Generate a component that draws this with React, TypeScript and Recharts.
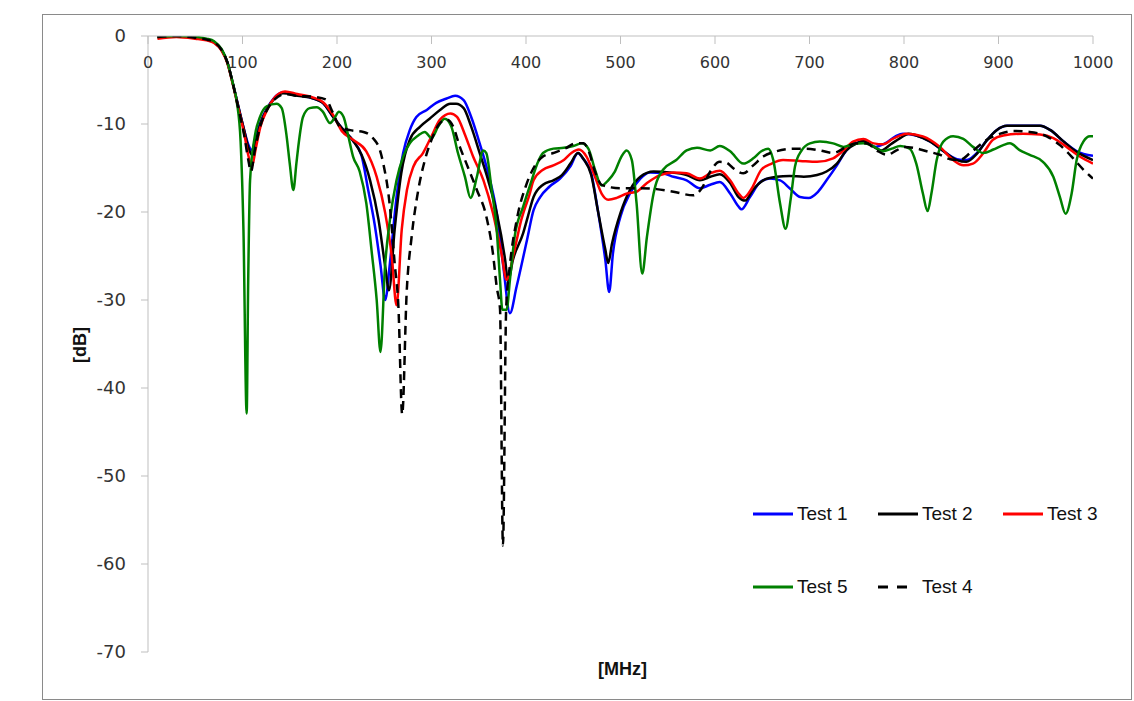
import { LineChart, Line, XAxis, YAxis, Legend } from 'recharts';

// frequency axis (MHz) and attenuation axis (dB)
const freqTicks = [0, 100, 200, 300, 400, 500, 600, 700, 800, 900, 1000];
const dbTicks = [0, -10, -20, -30, -40, -50, -60, -70];

// [MHz, dB]
const test1: [number, number][] = [
  [10, -0.1], [30, 0], [50, -0.2], [62, -0.4], [70, -0.7], [78, -1.6], [84, -3], [90, -5.5], [96, -8.2],
  [102, -10.8], [106, -12.3], [110, -13], [114, -11.5], [119, -9.8], [126, -8.2], [133, -7.1], [143, -6.4],
  [158, -6.7], [175, -7.1], [185, -7.6], [196, -9.2], [207, -10.7], [217, -11.9], [226, -13.6], [233, -17.5],
  [240, -21.5], [246, -26], [251, -30], [256, -25.8], [263, -18.3], [270, -13.3], [277, -10.7], [284, -9.2],
  [295, -8.4], [305, -7.6], [316, -7.1], [325, -6.8], [334, -7.3], [342, -9.2], [351, -12.2], [360, -15.6],
  [369, -20.1], [376, -26.2], [383, -31.5], [390, -28.5], [401, -23.2], [408, -19.8], [415, -18.3], [425, -17.1],
  [436, -16.2], [447, -14.8], [455, -13.3], [460, -13.9], [469, -15.6], [476, -19.8], [484, -25.5], [488, -29.1],
  [492, -24.7], [500, -20.5], [510, -17.9], [521, -16.2], [531, -15.5], [545, -15.6], [556, -16], [570, -16.4],
  [584, -17.3], [595, -16.9], [605, -16.6], [616, -17.9], [625, -19.4], [628, -19.7], [637, -18.3], [648, -16.6],
  [658, -16.2], [669, -16.4], [679, -17.3], [690, -18.3], [699, -18.4], [709, -17.7], [718, -16.4], [729, -14.7],
  [739, -13], [748, -12.2], [759, -12], [769, -12.6], [780, -12.2], [791, -11.4], [799, -11.1], [813, -11.3],
  [828, -12], [842, -13.1], [856, -14], [866, -14.1], [877, -13.3], [888, -11.8], [898, -10.7], [909, -10.2],
  [926, -10.2], [944, -10.2], [955, -10.7], [969, -12], [983, -13.1], [1000, -13.6],
];

const test2: [number, number][] = [
  [10, -0.1], [30, 0], [50, -0.2], [62, -0.4], [70, -0.7], [78, -1.6], [84, -3], [90, -5.5], [96, -8.2],
  [102, -10.8], [106, -12.6], [110, -13.5], [114, -12], [119, -10], [126, -8.3], [133, -7.2], [143, -6.5],
  [158, -6.8], [175, -7.1], [185, -7.6], [196, -9.2], [207, -10.7], [217, -11.9], [226, -13.5], [235, -16.4],
  [244, -20.9], [251, -26.2], [255, -28.9], [261, -22], [268, -15.6], [277, -11.8], [288, -10.3], [298, -9.4],
  [309, -8.4], [320, -7.7], [326, -7.7], [334, -8.2], [342, -10.3], [351, -13.3], [360, -16.4], [369, -20.1],
  [378, -25.5], [381, -27.9], [386, -25.5], [397, -22.4], [401, -20.9], [408, -18.3], [418, -16.9], [429, -16.4],
  [438, -15.8], [447, -14.5], [455, -13.3], [461, -14], [469, -15.8], [476, -19.8], [484, -24.3], [487, -25.8],
  [491, -23.6], [500, -20.1], [510, -17.5], [521, -16], [535, -15.4], [552, -15.5], [570, -15.8], [584, -16.4],
  [595, -16], [605, -15.7], [616, -16.7], [625, -18.3], [632, -18.7], [640, -17.5], [651, -16.4], [665, -16],
  [679, -15.9], [694, -16], [708, -15.8], [718, -15.4], [729, -14.5], [739, -13], [750, -12.2], [757, -11.9],
  [768, -12.6], [776, -13], [786, -12.3], [796, -11.6], [805, -11.1], [813, -11.3], [828, -12], [842, -13.1],
  [856, -14.1], [866, -14.3], [877, -13.4], [888, -11.8], [898, -10.7], [909, -10.2], [926, -10.2], [944, -10.2],
  [955, -10.7], [969, -12], [983, -13.2], [1000, -14.1],
];

const test3: [number, number][] = [
  [10, -0.3], [30, -0.1], [50, -0.3], [62, -0.5], [70, -0.8], [78, -1.7], [84, -3.1], [90, -5.6], [96, -8.4],
  [102, -11.2], [106, -13.5], [110, -14.8], [114, -12.8], [119, -10.3], [126, -8.4], [134, -7], [145, -6.3],
  [158, -6.6], [175, -7], [185, -7.5], [196, -9], [205, -10.8], [217, -11.8], [231, -13.1], [242, -16],
  [251, -20.1], [258, -25.1], [263, -30.6], [268.5, -22], [274, -17.5], [281, -14.8], [291, -13.3], [300, -11.4],
  [309, -9.5], [320, -8.8], [327, -9.2], [335, -11.1], [344, -13.7], [355, -16.4], [365, -20.1], [374, -24.7],
  [379.5, -27.7], [387, -24.7], [395, -20.9], [404, -17.9], [408, -16.4], [418, -15.2], [429, -14.7], [440, -14.1],
  [448, -13.3], [456, -12.9], [464, -13.7], [473, -16], [480, -17.9], [487, -18.6], [496, -18.4], [507, -17.9],
  [517, -17.7], [528, -16.7], [542, -15.8], [556, -15.5], [570, -15.6], [584, -16.2], [595, -15.6], [605, -15.3],
  [616, -16.4], [625, -17.9], [630, -18.4], [639, -17.3], [649, -15.2], [660, -14.5], [672, -14.1], [690, -14.2],
  [708, -14.3], [725, -13.9], [736, -13], [746, -12], [757, -11.7], [768, -12.2], [778, -12.3], [788, -11.7],
  [796, -11.3], [803, -11.1], [820, -11.4], [838, -12.6], [852, -14.1], [863, -14.7], [873, -14.5], [884, -13.3],
  [894, -11.8], [905, -11.3], [926, -11.1], [944, -11.2], [958, -11.6], [972, -12.6], [986, -13.7], [1000, -14.5],
];

const test5: [number, number][] = [
  [10, -0.1], [30, 0], [50, -0.1], [62, -0.3], [70, -0.6], [78, -1.5], [84, -3], [90, -5.5], [94, -7.5],
  [98, -12], [101, -22], [104.4, -42.9], [106, -28], [108, -16.4], [113, -11.4], [118.5, -9.2], [125.6, -8],
  [136, -7.7], [141.5, -8.2], [146.7, -11.4], [150, -14.5], [153.8, -17.5], [157, -14.5], [159, -12.6], [164, -9.2],
  [171, -8.2], [178.5, -8.1], [185, -8.6], [192.6, -9.9], [198, -9.2], [202, -8.6], [207, -9.2], [212, -11.4],
  [217, -13.7], [224, -15.4], [231, -19], [236.7, -24.5], [242, -30], [246, -35.9], [250.8, -26.2], [256, -20.9],
  [263, -16.4], [270, -13.7], [277, -12.2], [286, -11.3], [293, -10.9], [300, -11.6], [307, -10.3], [314, -9.4],
  [321, -10.3], [328, -13.3], [335.4, -16], [341.4, -18.4], [348, -16], [354.8, -13], [358, -13.3], [363.7, -17.5],
  [369, -22], [372.5, -27.7], [375, -31.1], [379.5, -31.1], [383, -27.7], [388, -22.8], [397, -19.4], [406, -16.4],
  [412, -14.5], [418, -13.3], [429, -12.8], [440, -12.7], [450, -12.5], [459, -12.2], [466, -12.8], [473, -15.2],
  [480, -17], [487, -16.4], [494, -15.4], [501, -13.7], [506.5, -13], [512, -14.1], [517, -19], [523, -27],
  [528, -22.8], [535, -17.9], [545, -15.2], [559, -14.1], [570, -13], [581, -12.7], [595, -13], [605, -12.5],
  [616, -13.1], [630, -14.5], [640.5, -13.9], [649, -13.1], [656.4, -12.8], [661.7, -14.1], [668.8, -19],
  [674.7, -21.9], [680, -18.6], [684.7, -14.8], [691.7, -13], [700.5, -12.2], [711, -12], [725, -12.2], [736, -12.6],
  [746, -12.3], [757, -12.2], [767, -12.5], [778, -13.1], [787, -12.8], [796, -12.5], [806, -12.8], [813, -14.5],
  [820, -17.9], [825, -19.9], [829, -17.9], [834.6, -14.1], [841.6, -12], [852, -11.4], [862.8, -11.7], [873, -12.6],
  [884, -13.3], [894.5, -12.9], [905, -12.4], [912, -12.2], [922.8, -13], [933, -13.5], [947, -14.3], [958, -16],
  [965, -18.3], [971, -20.2], [977.4, -17.9], [982.7, -14.1], [989.8, -12], [996.8, -11.4], [1000, -11.4],
];

const test4: [number, number][] = [
  [10, -0.1], [30, 0], [50, -0.2], [62, -0.4], [70, -0.7], [78, -1.6], [84, -3], [90, -5.5], [96, -8.4],
  [102, -11.4], [106, -14], [109, -15.4], [113, -13], [119, -10.2], [126, -8.4], [134, -7.2], [145, -6.6],
  [158, -6.8], [175, -6.9], [188, -7.2], [196, -8.8], [203, -10.3], [214, -10.7], [228, -10.9], [238, -11.6],
  [245.5, -13], [249, -14.5], [256, -19.4], [261, -25.8], [265, -30.8], [269, -43], [273.7, -29.2], [279, -22.8],
  [286, -17.5], [293, -14.1], [300, -11.8], [309, -9.9], [316, -9.5], [323, -10.3], [330, -12.6], [337, -14.5],
  [348, -17.5], [358, -20.5], [365, -24.7], [369, -28.5], [372.5, -31], [375.6, -57.9], [379, -31], [383, -26],
  [390, -21], [400, -17], [408, -15], [418, -13.7], [429, -13.3], [443, -12.7], [452, -12.2], [461, -12.2],
  [466, -13], [473, -15.4], [480, -16.9], [490, -17.2], [500, -17.3], [520, -17.3], [538, -17.4], [556, -17.7],
  [577, -18.1], [586, -17.3], [595, -15.4], [605, -14.3], [612, -14.4], [619, -15], [630, -15.6], [640.5, -14.7],
  [651, -13.7], [665, -13.1], [683, -12.8], [697, -12.8], [711, -13], [725, -13.3], [739, -12.6], [750, -12.2],
  [760, -12.2], [771, -13], [782, -13.5], [792, -13], [800, -12.6], [810, -12.7], [824, -13.1], [838, -13.5],
  [849, -14], [859, -14.1], [870, -13.3], [887.5, -11.8], [902, -11.1], [916, -10.8], [933, -10.9], [951, -11.4],
  [965, -12.4], [979, -13.9], [990, -15.2], [1000, -16.2],
];

const toPoints = (pts: [number, number][]) => pts.map(([f, v]) => ({ f, v }));

// legend order follows the original: 1, 2, 3, 5, 4
const series = [
  { name: 'Test 1', pts: test1, color: '#0000ff', dash: undefined },
  { name: 'Test 2', pts: test2, color: '#000000', dash: undefined },
  { name: 'Test 3', pts: test3, color: '#ff0000', dash: undefined },
  { name: 'Test 5', pts: test5, color: '#008000', dash: undefined },
  { name: 'Test 4', pts: test4, color: '#000000', dash: '9 6' },
];

const numFont = '"DejaVu Sans", Verdana, sans-serif';
const textFont = '"Liberation Sans", Arial, sans-serif';

// x axis sits on the 0 dB line, labels hang below it
const FreqTick = (props: any) => {
  const { x, y, payload } = props;
  return (
    <g>
      <line x1={x} x2={x} y1={y} y2={y + 8} stroke="#bfbfbf" />
      <text x={x} y={y + 32} textAnchor="middle" fontSize={16} fill="#333" fontFamily={numFont}>
        {payload.value}
      </text>
    </g>
  );
};

// keep the series order instead of the legend's alphabetical sort
const renderLegend = () => (
  <div style={{ display: 'grid', gridTemplateColumns: '125px 125px 125px', rowGap: 49, fontFamily: textFont, fontSize: 19, color: '#111' }}>
    {series.map((s) => (
      <div key={s.name} style={{ display: 'flex', alignItems: 'center', height: 24 }}>
        <svg width={40} height={6}>
          {s.dash ? (
            <line x1={0} x2={31} y1={3} y2={3} stroke={s.color} strokeWidth={3} strokeDasharray="10 9" />
          ) : (
            <line x1={0} x2={40} y1={3} y2={3} stroke={s.color} strokeWidth={3} />
          )}
        </svg>
        <span style={{ marginLeft: 4 }}>{s.name}</span>
      </div>
    ))}
  </div>
);

export default function App() {
  return (
    <div style={{ position: 'absolute', left: 0, top: 0, width: 1134, height: 701, background: '#fff' }}>
      <div style={{ position: 'absolute', left: 42, top: 14, width: 1090, height: 686, border: '1.5px solid #8a8a8a', boxSizing: 'border-box' }} />
      <LineChart width={1134} height={701} margin={{ top: 16, right: 41, bottom: 49, left: 88 }} style={{ position: 'absolute', left: 0, top: 0 }}>
        <XAxis
          type="number"
          dataKey="f"
          orientation="top"
          height={20}
          domain={[0, 1000]}
          ticks={freqTicks}
          allowDataOverflow
          axisLine={{ stroke: '#bfbfbf' }}
          tickLine={false}
          tickSize={0}
          tickMargin={0}
          tick={<FreqTick />}
        />
        <YAxis
          type="number"
          domain={[-70, 0]}
          ticks={dbTicks}
          width={60}
          allowDataOverflow
          axisLine={{ stroke: '#bfbfbf' }}
          tickLine={{ stroke: '#bfbfbf' }}
          tickSize={7}
          tickMargin={15}
          tick={{ fontSize: 18, fill: '#333', fontFamily: numFont }}
        />
        <Legend
          layout="horizontal"
          verticalAlign="middle"
          align="center"
          content={renderLegend}
          wrapperStyle={{ position: 'absolute', left: 753, top: 502, width: 380 }}
        />
        {series.map((s) => (
          <Line
            key={s.name}
            name={s.name}
            data={toPoints(s.pts)}
            dataKey="v"
            type="monotone"
            stroke={s.color}
            strokeWidth={2.5}
            strokeDasharray={s.dash}
            dot={false}
            activeDot={false}
            isAnimationActive={false}
          />
        ))}
      </LineChart>
      <div style={{ position: 'absolute', left: 598, top: 659, fontFamily: textFont, fontWeight: 'bold', fontSize: 18, color: '#111' }}>
        [MHz]
      </div>
      <div
        style={{
          position: 'absolute',
          left: 80,
          top: 345,
          transform: 'translate(-50%, -50%) rotate(-90deg)',
          fontFamily: textFont,
          fontWeight: 'bold',
          fontSize: 18,
          color: '#111',
        }}
      >
        [dB]
      </div>
    </div>
  );
}
